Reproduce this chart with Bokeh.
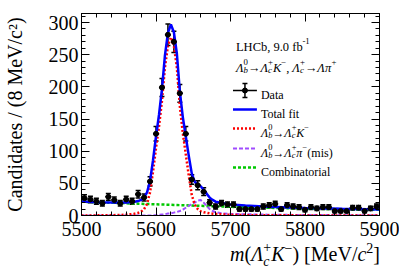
import numpy as np
from bokeh.plotting import figure
from bokeh.layouts import column
from bokeh.models import (Range1d, LinearAxis, Label, Whisker, TeeHead, Div,
                          ColumnDataSource, SingleIntervalTicker, CustomJSTickFormatter)
from bokeh.embed import file_html
from bokeh.resources import INLINE

# ---------------- data ----------------
bin_centers = [5504, 5512, 5520, 5528, 5536, 5544, 5552, 5560, 5568, 5576,
               5584, 5592, 5600, 5608, 5616, 5624, 5632, 5640, 5648, 5656,
               5664, 5672, 5680, 5688, 5696, 5704, 5712, 5720, 5728, 5736,
               5744, 5752, 5760, 5768, 5776, 5784, 5792, 5800, 5808, 5816,
               5824, 5832, 5840, 5848, 5856, 5864, 5872, 5880, 5888, 5896]
counts = [27, 25, 22, 19, 29, 24, 19, 25, 22, 33,
          28, 53, 127, 199, 281, 270, 190, 127, 56, 47,
          37, 20, 14, 19, 17, 17, 10, 10, 10, 10,
          14, 16, 18, 10, 16, 14, 13, 9, 13, 11,
          13, 13, 7, 7, 7, 12, 12, 7, 11, 14]
bin_half_width = 4

fit_x = [5500, 5520, 5540, 5560, 5570, 5576, 5580, 5584, 5588, 5592,
         5596, 5600, 5604, 5608, 5612, 5616, 5620, 5624, 5628, 5632,
         5636, 5640, 5644, 5648, 5652, 5656, 5660, 5664, 5668, 5672,
         5676, 5680, 5688, 5700, 5720, 5750, 5800, 5850, 5900]
signal = [0.1, 0.2, 0.4, 1.2, 2.5, 4, 6, 10, 18, 36,
          68, 105, 138, 178, 230, 264, 277, 264, 230, 170,
          128, 95, 62, 32, 17, 10, 6.5, 5, 4.2, 3.3,
          2.8, 2.3, 1.8, 1.0, 0.6, 0.3, 0.15, 0.1, 0.05]
misid = [0, 0, 0, 0, 0, 0, 0, 0, 0, 0,
         0.3, 0.5, 1, 1.5, 2, 3, 3.5, 4.5, 5.5, 7,
         9, 12, 15, 18, 20, 23, 24, 20, 15, 10,
         7, 5, 3.5, 2.5, 2, 1.3, 0.8, 0.5, 0.3]
comb = [21.5, 20.5, 19.8, 19, 18.6, 18.4, 18.2, 18.0, 17.9, 17.7,
        17.6, 17.4, 17.2, 17.1, 16.9, 16.8, 16.6, 16.4, 16.3, 16.1,
        16, 15.8, 15.6, 15.5, 15.3, 15.2, 15, 14.9, 14.8, 14.5,
        14.4, 14.2, 14.0, 13.5, 12.8, 12, 10.8, 9.8, 9]
total = list(np.array(signal) + np.array(misid) + np.array(comb))

X0, X1 = 5500, 5900
Y0, Y1 = 0, 314
SERIF = "Liberation Serif"

# frame position in canvas pixels
FL, FR, FT, FB = 80.0, 379.0, 13.0, 215.0
W, H = 399, 245          # figure; the x title goes in a Div beneath it
TITLE_H = 25

# ---------------- figure ----------------
p = figure(width=W, height=H, x_range=Range1d(X0, X1), y_range=Range1d(Y0, Y1),
           output_backend="svg", toolbar_location=None,
           min_border_left=int(FL), min_border_right=int(W - FR),
           min_border_top=int(FT), min_border_bottom=int(H - FB))
p.xgrid.visible = False
p.ygrid.visible = False
p.outline_line_color = "black"
p.outline_line_width = 1
p.background_fill_color = "white"
p.border_fill_color = "white"

def style_axis(ax, interval, labels=True):
    ax.ticker = SingleIntervalTicker(interval=interval, num_minor_ticks=5)
    ax.major_tick_in = 8
    ax.major_tick_out = 0
    ax.minor_tick_in = 4
    ax.minor_tick_out = 0
    ax.axis_line_color = "black"
    ax.major_tick_line_color = "black"
    ax.minor_tick_line_color = "black"
    ax.major_label_text_font = SERIF
    ax.major_label_text_font_size = "20px"
    ax.major_label_text_color = "black"
    if not labels:
        ax.formatter = CustomJSTickFormatter(code="return ''")
        ax.major_label_standoff = 0
        ax.major_label_text_font_size = "1px"

style_axis(p.xaxis[0], 100)
p.xaxis[0].major_label_standoff = 6
style_axis(p.yaxis[0], 50)
p.yaxis[0].major_label_standoff = 3
p.yaxis[0].axis_label = "Candidates / (8 MeV/c²)"
p.yaxis[0].axis_label_text_font = SERIF
p.yaxis[0].axis_label_text_font_size = "20px"
p.yaxis[0].axis_label_text_font_style = "normal"
p.yaxis[0].axis_label_text_color = "black"
p.yaxis[0].axis_label_standoff = 20

top_ax = LinearAxis()
style_axis(top_ax, 100, labels=False)
p.add_layout(top_ax, "above")
right_ax = LinearAxis()
style_axis(right_ax, 50, labels=False)
p.add_layout(right_ax, "right")

# ---------------- curves ----------------
p.line(fit_x, comb, line_color="#00c800", line_width=2.5, line_dash="3 2")
p.line(fit_x, misid, line_color="#a04cff", line_width=2, line_dash="4 2")
p.line(fit_x, signal, line_color="#ff0000", line_width=2.5, line_dash="2 2")
p.line(fit_x, total, line_color="#0000ff", line_width=2.5)

# ---------------- data ----------------
err = np.sqrt(np.array(counts, dtype=float))
src = ColumnDataSource(dict(x=bin_centers, y=counts,
                            lo=np.array(counts) - err, hi=np.array(counts) + err,
                            xl=np.array(bin_centers) - bin_half_width,
                            xr=np.array(bin_centers) + bin_half_width))
p.add_layout(Whisker(base="x", lower="lo", upper="hi", source=src, dimension="height",
                     line_color="black", line_width=1.5,
                     lower_head=TeeHead(size=5, line_color="black", line_width=1.5),
                     upper_head=TeeHead(size=5, line_color="black", line_width=1.5)))
p.segment(x0="xl", x1="xr", y0="y", y1="y", source=src, line_color="black", line_width=1.5)
p.scatter("x", "y", source=src, size=5, color="black")

# ---------------- rich text helpers (canvas pixel layout) ----------------
def px2x(px):
    return X0 + (px - FL) * (X1 - X0) / (FR - FL)
def py2y(py):
    return Y0 + (FB - py) * (Y1 - Y0) / (FB - FT)

W_REG = {' ': .25, '(': .333, ')': .333, '[': .333, ']': .333, '/': .278, ',': .25,
         '.': .25, '-': .333, '−': .564, '+': .564, '→': 1.0, 'M': .889, 'e': .444,
         'V': .722, 'D': .722, 'a': .444, 't': .278, 'T': .611, 'o': .5, 'l': .278,
         'f': .333, 'i': .278, 'C': .667, 'm': .778, 'b': .5, 'n': .5, 'r': .333,
         's': .389, 'L': .611, 'H': .722, 'h': .5, 'c': .444, 'K': .722, 'Λ': .722,
         'π': .55, 'd': .5}
W_IT = {'m': .722, 'c': .444, 'K': .667, 'Λ': .61, 'π': .52, 'b': .5}

def twidth(t, it, fs):
    w = 0
    for ch in t:
        if ch.isdigit():
            w += .5
        elif it and ch in W_IT:
            w += W_IT[ch]
        else:
            w += W_REG.get(ch, .5)
    return w * fs

def layout(segs, fs):
    items, x = [], 0.0
    s = fs * 0.7
    for seg in segs:
        k = seg[0]
        if k == 'n':
            items.append((x, 0, seg[1], fs, seg[2])); x += twidth(seg[1], seg[2], fs)
        elif k == 'sup':
            items.append((x, fs * 0.42, seg[1], s, seg[2])); x += twidth(seg[1], seg[2], s)
        elif k == 'ss':
            items.append((x, fs * 0.42, seg[1], s, False))
            items.append((x, -fs * 0.22, seg[2], s, True))
            x += max(twidth(seg[1], False, s), twidth(seg[2], True, s))
    return items, x

def rich(segs, x_page, base_page, fs):
    items, w = layout(segs, fs)
    for dx, dy, t, size, it in items:
        X, Y = x_page + dx, base_page - dy
        p.add_layout(Label(x=px2x(X), y=py2y(Y), text=t, text_font=SERIF,
                           text_font_size=f"{size:.1f}px",
                           text_font_style="italic" if it else "normal",
                           text_color="black", text_align="left",
                           text_baseline="alphabetic"))

LB = [('n', 'Λ', True), ('ss', '0', 'b')]
LC = [('n', 'Λ', True), ('ss', '+', 'c')]
ARROW = [('n', '→', False)]

# header
rich([('n', 'LHCb, 9.0 fb', False), ('sup', '-1', False)], 235, 46, 12.5)
rich(LB + ARROW + LC + [('n', 'K', True), ('sup', '−', False), ('n', ', ', False)] +
     LC + ARROW + [('n', 'Λπ', True), ('sup', '+', False)], 235, 67, 12.5)

# legend
leg_rows = [90, 109, 128, 148, 167]
TX = 260
rich([('n', 'Data', False)], TX, leg_rows[0] + 4, 12)
rich([('n', 'Total fit', False)], TX, leg_rows[1] + 4, 12)
rich(LB + ARROW + LC + [('n', 'K', True), ('sup', '−', False)], TX, leg_rows[2] + 4, 12)
rich(LB + ARROW + LC + [('n', 'π', True), ('sup', '−', False), ('n', ' (mis)', False)],
     TX, leg_rows[3] + 4, 12)
rich([('n', 'Combinatorial', False)], TX, leg_rows[4] + 4, 12)

# legend swatches
sx0, sx1, sxm = px2x(232), px2x(256), px2x(244)
yd = py2y(leg_rows[0])
p.segment(x0=[sx0], x1=[sx1], y0=[yd], y1=[yd], line_color="black", line_width=1.5)
p.segment(x0=[sxm], x1=[sxm], y0=[py2y(83)], y1=[py2y(97)], line_color="black", line_width=1.5)
p.segment(x0=[px2x(241.5), px2x(241.5)], x1=[px2x(246.5), px2x(246.5)],
          y0=[py2y(83), py2y(97)], y1=[py2y(83), py2y(97)], line_color="black", line_width=1.5)
p.scatter([sxm], [yd], size=5, color="black")
p.line([sx0, sx1], [py2y(leg_rows[1])] * 2, line_color="#0000ff", line_width=2.5)
p.line([sx0, sx1], [py2y(leg_rows[2])] * 2, line_color="#ff0000", line_width=2.5, line_dash="2 2")
p.line([sx0, sx1], [py2y(leg_rows[3])] * 2, line_color="#a04cff", line_width=2, line_dash="4 2")
p.line([sx0, sx1], [py2y(leg_rows[4])] * 2, line_color="#00c800", line_width=2.5, line_dash="3 2")

# ---------------- x axis title (HTML, right aligned at the frame's right edge) ----------------
SUP = '<span style="font-size:14px;position:relative;top:-8px">{}</span>'
STACK = ('<span style="display:inline-block;vertical-align:-5px;font-size:14px;'
         'line-height:14px;text-align:left">{}<br><i>{}</i></span>')
x_title = ('<i>m</i>(<i>Λ</i>' + STACK.format('+', 'c') + '<i>K</i>' + SUP.format('−') +
           ') [MeV/<i>c</i>' + SUP.format('2') + ']')
div = Div(text=x_title, width=int(FR) + 1, height=TITLE_H, margin=(0, 0, 0, 0),
          styles={"font-family": SERIF, "font-size": "20px", "line-height": "20px",
                  "text-align": "right", "white-space": "nowrap", "color": "black",
                  "width": f"{int(FR) + 1}px", "margin-top": "-4px"})

open("out.html", "w").write(file_html(column(p, div, spacing=0), INLINE))
